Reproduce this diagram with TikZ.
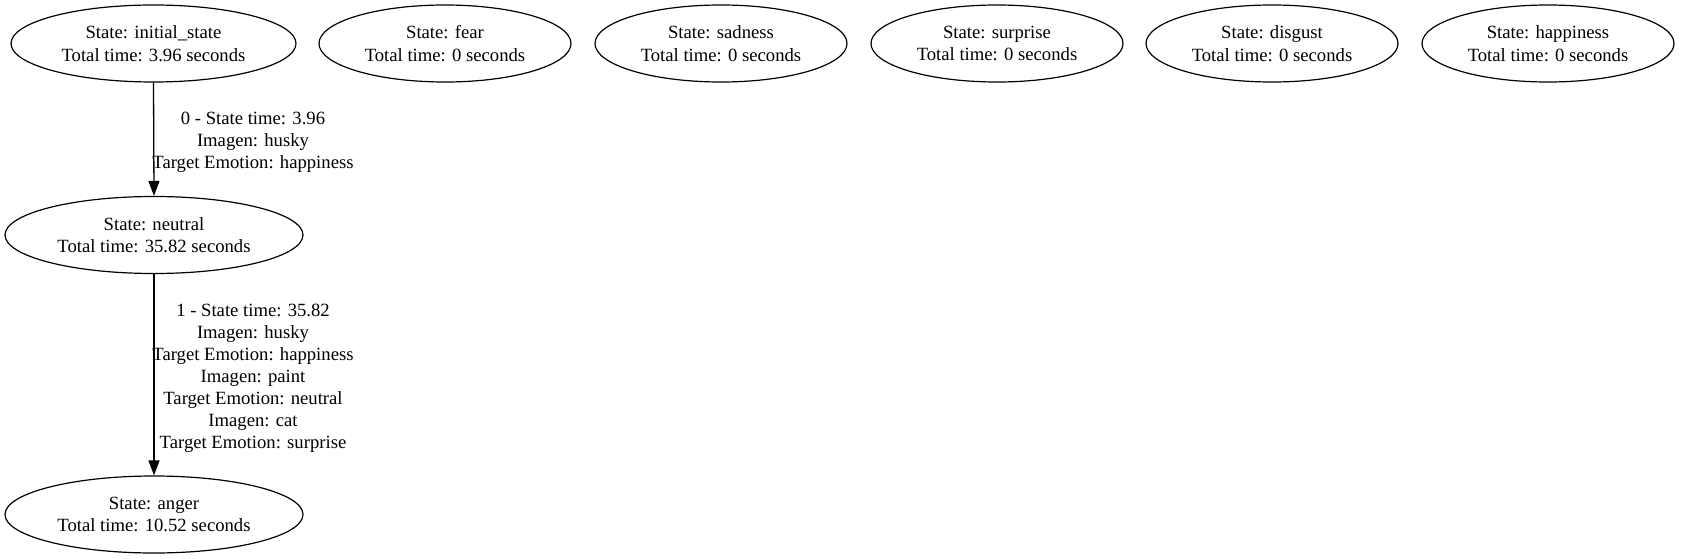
\documentclass[tikz,border=0pt]{standalone}
\usepackage{fontspec}
\setmainfont{Liberation Serif}
\usetikzlibrary{shapes.geometric, arrows.meta}

\tikzset{
  statenode/.style={draw, ellipse, line width=1.2pt, inner sep=0,
    minimum width=252pt, minimum height=77pt, align=center,
    font=\fontsize{18.67}{22.4}\selectfont},
  steplabel/.style={align=center, inner sep=0,
    font=\fontsize{18.67}{22}\selectfont}
}

\begin{document}
\begin{tikzpicture}[x=1pt, y=-1pt]
  \useasboundingbox (0, 0) rectangle (1681, 559);

  \node[statenode, minimum width=285pt]
    (init) at (153.5, 43.5) {State: initial\_state\\Total time: 3.96 seconds};

  \node[statenode] (fear) at (445, 43.5) {State: fear\\Total time: 0 seconds};
  \node[statenode] (sad)  at (721, 43.5) {State: sadness\\Total time: 0 seconds};
  \node[statenode] (surp) at (997, 43.5) {State: surprise\\Total time: 0 seconds};
  \node[statenode] (disg) at (1272, 43.5) {State: disgust\\Total time: 0 seconds};
  \node[statenode] (happy) at (1548, 43.5) {State: happiness\\Total time: 0 seconds};

  \node[statenode, minimum width=298pt]
    (neutral) at (154, 235) {State: neutral\\Total time: 35.82 seconds};

  \node[statenode, minimum width=298pt]
    (anger) at (154, 514.5) {State: anger\\Total time: 10.52 seconds};

  \node[steplabel] (lab0) at (253, 142)
    {0 - State time: 3.96\\Imagen: husky\\Target Emotion: happiness};

  \node[steplabel] (lab1) at (253, 378.5)
    {1 - State time: 35.82\\Imagen: husky\\Target Emotion: happiness\\Imagen: paint\\Target Emotion: neutral\\Imagen: cat\\Target Emotion: surprise};

  \draw[-{Triangle[length=15pt, width=11pt]}, line width=1.3pt]
    (init.south) -- (neutral.north);

  \draw[-{Triangle[length=15pt, width=11pt]}, line width=1.3pt]
    (neutral.south) -- (anger.north);
\end{tikzpicture}
\end{document}
